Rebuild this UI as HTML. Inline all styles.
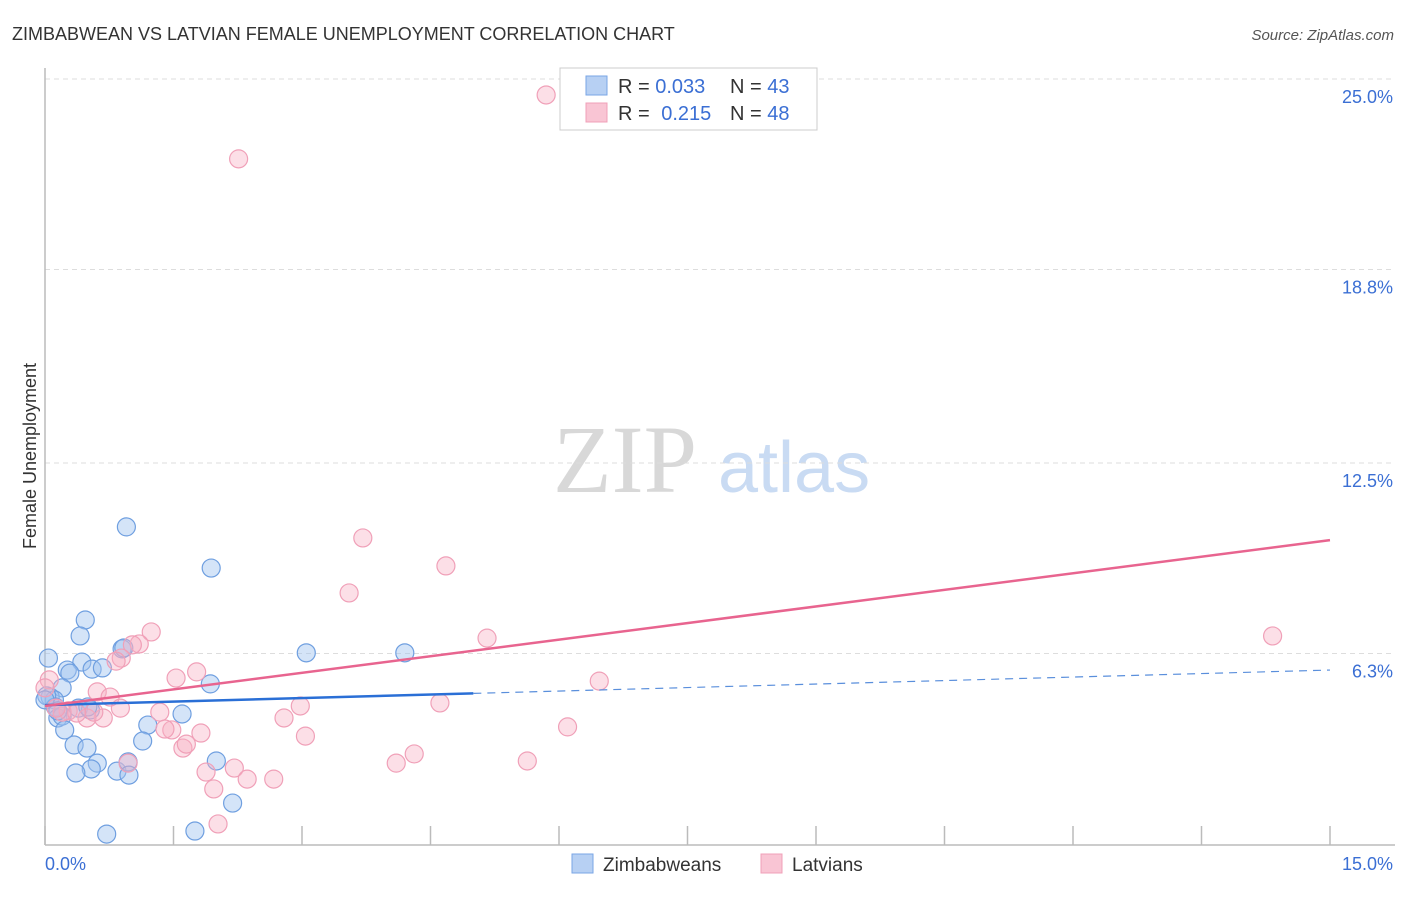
<!DOCTYPE html>
<html><head><meta charset="utf-8"><style>
body{margin:0;background:#fff;font-family:"Liberation Sans",sans-serif;}
svg text{font-family:"Liberation Sans",sans-serif;}
</style></head><body>
<svg id="chart" width="1406" height="892" viewBox="0 0 1406 892">
<text x="12" y="40" font-size="18" fill="#333">ZIMBABWEAN VS LATVIAN FEMALE UNEMPLOYMENT CORRELATION CHART</text>
<text x="1394" y="40" font-size="15" fill="#555" font-style="italic" text-anchor="end">Source: ZipAtlas.com</text>
<text x="36" y="456" font-size="18" fill="#333" text-anchor="middle" transform="rotate(-90 36 456)">Female Unemployment</text>
<g>
<text x="553" y="492" font-size="96" fill="#d8d8d8" font-family="Liberation Serif,serif" style="font-family:'Liberation Serif',serif">ZIP</text>
<text x="718" y="492" font-size="72" fill="#c9dbf3">atlas</text>
</g>
<g id="grid"></g>
<line x1="45" y1="68" x2="45" y2="845" stroke="#bbb" stroke-width="1.5"/>
<line x1="45" y1="845" x2="1395" y2="845" stroke="#bbb" stroke-width="1.5"/>
<g id="xticks"></g>
<g id="pts"></g>
<g id="trends"></g>
<g>
<rect x="560" y="68" width="257" height="62" fill="#fff" stroke="#ccc"/>
<rect x="586" y="76" width="21" height="19" fill="#b7d0f3" stroke="#7aa6e6"/>
<rect x="586" y="103" width="21" height="19" fill="#f9c5d4" stroke="#f0a0b8"/>
<text x="618" y="93" font-size="20" fill="#333">R = <tspan fill="#3b6fd4">0.033</tspan></text>
<text x="730" y="93" font-size="20" fill="#333">N = <tspan fill="#3b6fd4">43</tspan></text>
<text x="618" y="120" font-size="20" fill="#333">R = <tspan fill="#3b6fd4" dx="6">0.215</tspan></text>
<text x="730" y="120" font-size="20" fill="#333">N = <tspan fill="#3b6fd4">48</tspan></text>
</g>
<text x="45" y="870" font-size="18" fill="#3b6fd4">0.0%</text>
<text x="1393" y="870" font-size="18" fill="#3b6fd4" text-anchor="end">15.0%</text>
<g>
<rect x="572" y="854" width="21" height="19" fill="#b7d0f3" stroke="#7aa6e6"/>
<text x="603" y="871" font-size="19" fill="#333">Zimbabweans</text>
<rect x="761" y="854" width="21" height="19" fill="#f9c5d4" stroke="#f0a0b8"/>
<text x="792" y="871" font-size="19" fill="#333">Latvians</text>
</g>
</svg>
<script>
const yTicks=[25.0,18.8,12.5,6.3];
const yTickLabels=["25.0%","18.8%","12.5%","6.3%"];
const xTicks=[0,1.5,3,4.5,6,7.5,9,10.5,12,13.5,15];
const blueX=[0.95,1.94,0.47,0.41,0.90,0.92,0.04,0.43,0.26,0.29,0.55,0.67,1.93,0.20,0.06,0.11,0.02,0.12,0.15,0.20,0.39,0.53,1.60,1.20,0.23,0.34,0.49,1.14,0.61,0.54,0.36,0.84,0.97,0.98,2.00,2.19,0.72,1.75,3.05,4.20,0.15,0.50,0.00];
const blueY=[10.42,9.08,7.39,6.87,6.45,6.48,6.15,6.02,5.76,5.66,5.79,5.83,5.31,5.18,4.88,4.79,4.92,4.56,4.20,4.26,4.52,4.46,4.33,3.97,3.81,3.32,3.22,3.45,2.73,2.54,2.41,2.47,2.77,2.34,2.80,1.43,0.42,0.52,6.32,6.32,4.43,4.56,4.79];
const pinkX=[5.85,2.26,3.71,4.68,3.55,1.24,1.10,1.02,0.89,0.83,5.16,14.33,1.77,1.53,0.61,0.76,6.47,0.05,0.00,1.34,0.68,0.49,0.27,2.98,2.79,4.61,1.82,1.48,1.40,3.04,1.61,1.65,6.10,4.31,4.10,5.63,1.88,2.21,2.36,2.67,1.97,2.02,0.97,0.20,0.57,0.13,0.88,0.37];
const pinkY=[24.48,22.40,10.06,9.15,8.27,7.00,6.61,6.58,6.15,6.05,6.80,6.87,5.70,5.50,5.05,4.88,5.40,5.44,5.18,4.39,4.20,4.20,4.43,4.59,4.20,4.69,3.71,3.81,3.84,3.61,3.22,3.35,3.91,3.03,2.73,2.80,2.44,2.57,2.21,2.21,1.89,0.75,2.73,4.39,4.39,4.52,4.52,4.36];
const blueTrend=[4.62,5.76]; // y at x=0 and x=15
const blueSolidEnd=5.0;
const pinkTrend=[4.59,9.99];

const NS="http://www.w3.org/2000/svg";
const sx=v=>45+v*(1285/15);
const sy=v=>847-v*(768/25);
function mk(tag,attrs,parent){const e=document.createElementNS(NS,tag);for(const k in attrs)e.setAttribute(k,attrs[k]);parent.appendChild(e);return e;}
const grid=document.getElementById('grid');
yTicks.forEach((t,i)=>{
  const l=mk('line',{x1:45,x2:1395,y1:sy(t),y2:sy(t),stroke:'#ddd','stroke-dasharray':'5,4'},grid);
  
  
  const tx=mk('text',{x:1393,y:sy(t)+24,'font-size':18,fill:'#3b6fd4','text-anchor':'end'},grid);
  tx.textContent=yTickLabels[i];
  
  
});
const xt=document.getElementById('xticks');
xTicks.forEach(t=>{
  const l=mk('line',{x1:sx(t),x2:sx(t),y1:826,y2:845,stroke:'#bbb','stroke-width':1.5},xt);
  
  
});
const pts=document.getElementById('pts');
blueX.forEach((x,i)=>{
  const c=mk('circle',{cx:sx(x),cy:sy(blueY[i]),r:9,fill:'rgba(160,196,240,0.45)',stroke:'#6f9fe0','stroke-width':1.2},pts);
  
  
});
pinkX.forEach((x,i)=>{
  const c=mk('circle',{cx:sx(x),cy:sy(pinkY[i]),r:9,fill:'rgba(247,175,195,0.4)',stroke:'#f0a0b8','stroke-width':1.2},pts);
  
  
});
const tr=document.getElementById('trends');
const by=x=>blueTrend[0]+(blueTrend[1]-blueTrend[0])*x/15;
const a=mk('line',{x1:sx(0),y1:sy(by(0)),x2:sx(blueSolidEnd),y2:sy(by(blueSolidEnd)),stroke:'#2a6fd6','stroke-width':2.5},tr);


const b=mk('line',{x1:sx(blueSolidEnd),y1:sy(by(blueSolidEnd)),x2:sx(15),y2:sy(by(15)),stroke:'#5a8fdc','stroke-width':1.2,'stroke-dasharray':'8,6'},tr);


const p=mk('line',{x1:sx(0),y1:sy(pinkTrend[0]),x2:sx(15),y2:sy(pinkTrend[1]),stroke:'#e8648f','stroke-width':2.5},tr);


</script>
</body></html>
